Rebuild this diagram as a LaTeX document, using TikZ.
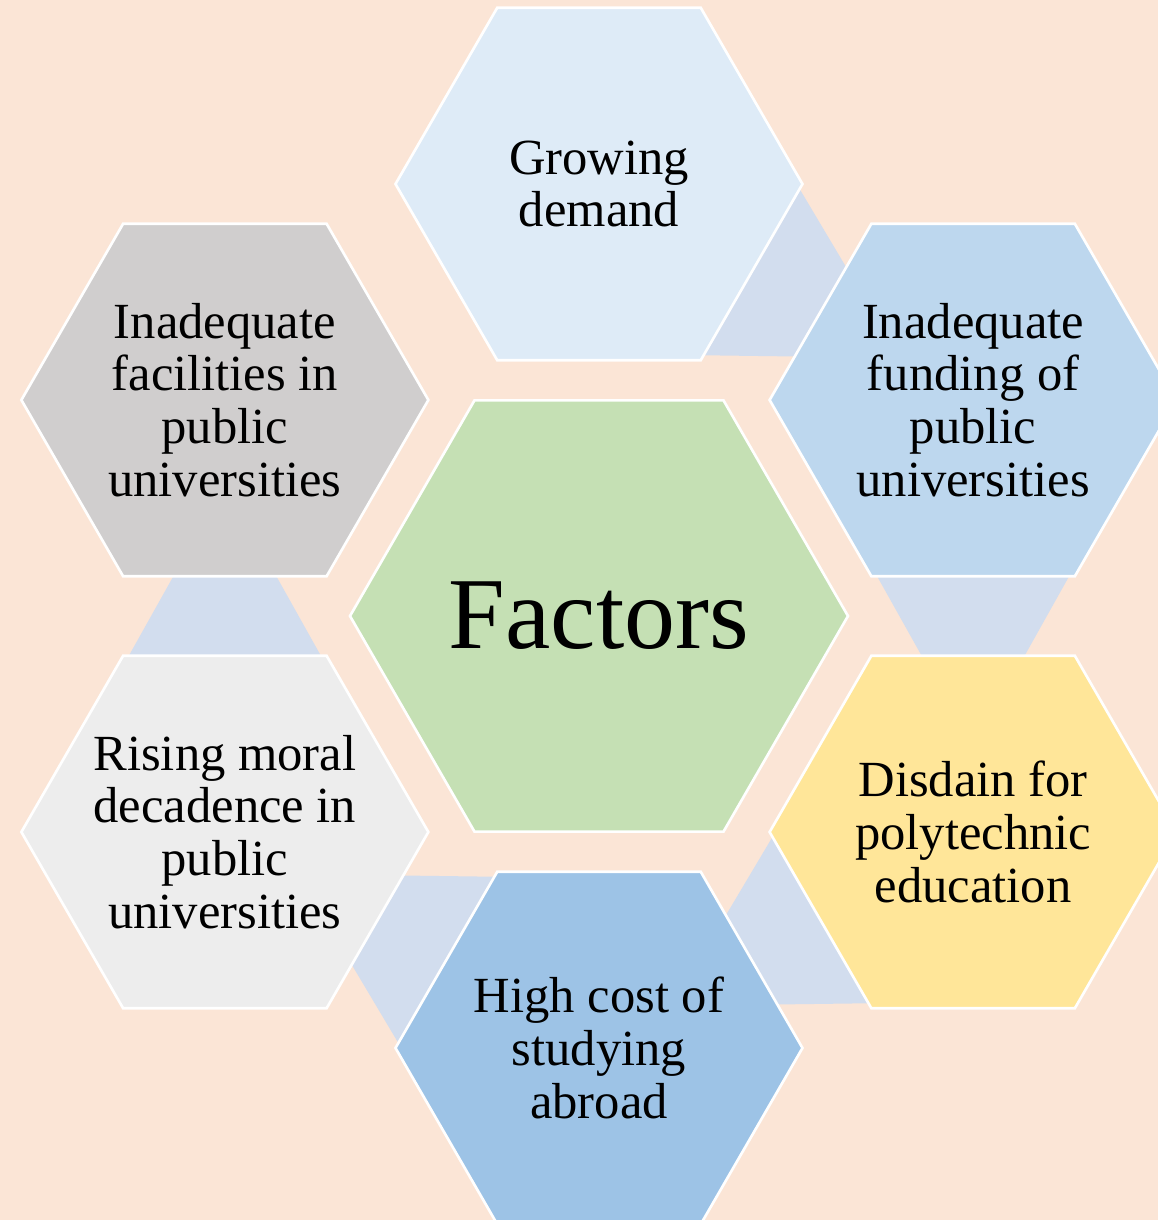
\documentclass[tikz,border=0pt]{standalone}
\usepackage{fontspec}
\setmainfont{Liberation Serif}
\usetikzlibrary{shapes.geometric}
\usetikzlibrary{calc}
\usetikzlibrary{backgrounds}

\definecolor{peach}{HTML}{FBE5D6}
\definecolor{factgreen}{HTML}{C5E0B4}
\definecolor{paleblue}{HTML}{DEEBF7}
\definecolor{lightblue}{HTML}{BDD7EE}
\definecolor{midblue}{HTML}{9DC3E6}
\definecolor{gold}{HTML}{FFE699}
\definecolor{darkgray}{HTML}{D0CECE}
\definecolor{lightgray}{HTML}{EDEDED}
\definecolor{linkblue}{HTML}{D2DDEE}

\begin{document}
\begin{tikzpicture}[
    hexa/.style={regular polygon, regular polygon sides=6, minimum size=4.07cm,
        inner sep=0pt, draw=white, line width=0.75pt},
    txt/.style={align=center, font=\fontsize{14.4}{15}\selectfont},
    link/.style={fill=linkblue}]
        \useasboundingbox (-5.99,-6.04) rectangle (5.59,6.16);

        % centre and the six factors round it
        \node[hexa, minimum size=4.98cm, fill=factgreen, font=\fontsize{29}{30}\selectfont] (fac) at (0,0) {Factors};
        \node[hexa, fill=paleblue, label={[txt]center:Growing\\demand}] (t) at (90:4.32) {};
        \node[hexa, fill=lightblue, label={[txt]center:Inadequate\\funding of\\public\\universities}] (tr) at (30:4.32) {};
        \node[hexa, fill=gold, label={[txt]center:Disdain for\\polytechnic\\education}] (br) at (-30:4.32) {};
        \node[hexa, fill=midblue, label={[txt]center:High cost of\\studying\\abroad}] (b) at (-90:4.32) {};
        \node[hexa, fill=lightgray, label={[txt]center:Rising moral\\decadence in\\public\\universities}] (bl) at (210:4.32) {};
        \node[hexa, fill=darkgray, label={[txt]center:Inadequate\\facilities in\\public\\universities}] (tl) at (150:4.32) {};

        \begin{scope}[on background layer]
            \fill[peach] (-5.99,-6.04) rectangle (5.59,6.16);
            \foreach \s/\e in {tr/t, tl/bl, bl/b, b/br, br/tr}
                \fill[link] ($(\s)!1.655cm!14.84:(\e)$) -- ($(\s)!2.803cm!20.80:(\e)$)
                    -- ($(\s)!2.803cm!-20.80:(\e)$) -- ($(\s)!1.655cm!-14.84:(\e)$) -- cycle;
        \end{scope}
\end{tikzpicture}
\end{document}
